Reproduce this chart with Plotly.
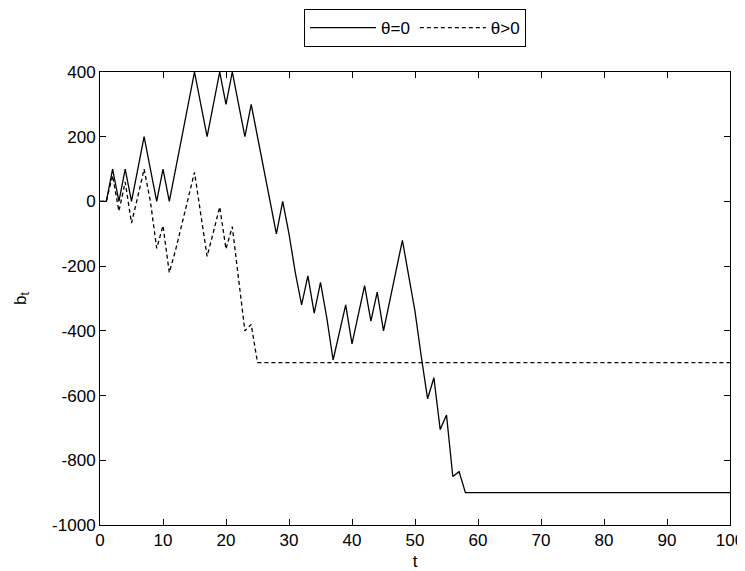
import plotly.graph_objects as go

t_solid = list(range(0, 59)) + [100]
b_solid = [0, 0, 100, 0, 100, 0, 100, 200, 100, 0,
           100, 0, 100, 200, 300, 400, 300, 200, 300, 400,
           300, 400, 300, 200, 300, 200, 100, 0, -100, 0,
           -100, -220, -320, -230, -345, -250, -360, -490, -405, -320,
           -440, -350, -260, -370, -280, -400, -310, -215, -120, -230,
           -340, -480, -610, -545, -705, -660, -850, -835, -900, -900]

t_dash = list(range(0, 26)) + [100]
b_dash = [0, 0, 80, -30, 60, -67, 15, 100, 0, -145,
          -75, -220, -150, -70, 10, 90, -40, -170, -95, -17,
          -147, -78, -240, -400, -380, -498, -498]

x_ticks = list(range(0, 101, 10))
y_ticks = list(range(-1000, 401, 200))
y_tick_labels = ["-1000", "-800", "-600", "-400", "-200", "0", "200", "400"]

FONT = "Liberation Sans, Arial, Helvetica"

fig = go.Figure()
fig.add_trace(go.Scatter(x=t_solid, y=b_solid, mode="lines", name="\u03b8=0",
                         line=dict(color="black", width=1.3)))
fig.add_trace(go.Scatter(x=t_dash, y=b_dash, mode="lines", name="\u03b8>0",
                         line=dict(color="black", width=1.3, dash="4px,3px")))

axis_common = dict(showgrid=False, zeroline=False, showline=True, mirror="ticks",
                   linecolor="black", linewidth=1, ticks="inside", ticklen=6,
                   tickcolor="black", automargin=False,
                   tickfont=dict(family=FONT, size=17, color="black"))

fig.update_layout(
    width=737, height=563,
    margin=dict(l=92, r=15, t=64, b=46, autoexpand=False),
    plot_bgcolor="white", paper_bgcolor="white",
    font=dict(family=FONT, size=17, color="black"),
    showlegend=True,
    legend=dict(orientation="h", x=0.5, xanchor="center", y=1.139, yanchor="top",
                bordercolor="black", borderwidth=1, bgcolor="white",
                font=dict(family=FONT, size=17, color="black"), itemwidth=66,
                tracegroupgap=0),
    xaxis=dict(range=[0, 100], tickvals=x_ticks,
               title=dict(text="t", standoff=9, font=dict(family=FONT, size=17)), **axis_common),
    yaxis=dict(range=[-1000, 400], tickvals=y_ticks, ticktext=y_tick_labels,
               title=dict(text="b<sub>t</sub>", standoff=21, font=dict(family=FONT, size=17)), **axis_common),
)

fig.write_html("out.html")
